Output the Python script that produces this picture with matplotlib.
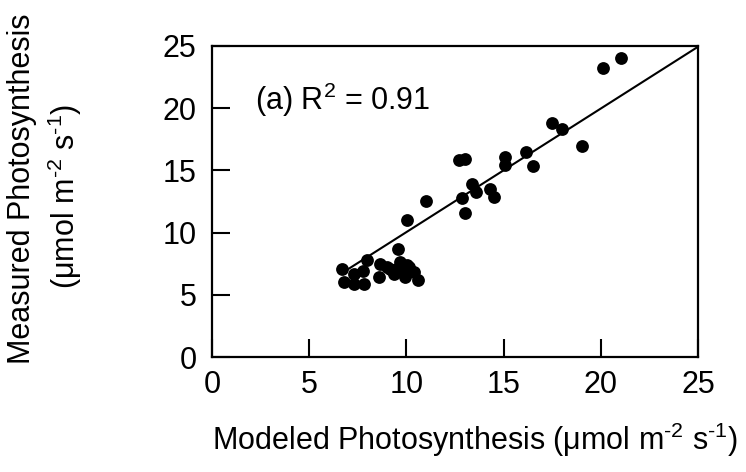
import matplotlib
matplotlib.use("Agg")
import matplotlib.pyplot as plt

plt.rcParams['font.family'] = ['Liberation Sans', 'DejaVu Sans']
plt.rcParams['mathtext.fontset'] = 'custom'
plt.rcParams['mathtext.rm'] = 'Liberation Sans'
plt.rcParams['mathtext.it'] = 'Liberation Sans'
plt.rcParams['mathtext.default'] = 'regular'

# Data
modeled = [21.05, 20.12, 17.46, 18.0, 19.0, 16.17, 16.51, 15.06, 15.09,
           12.69, 13.03, 13.39, 13.56, 14.32, 14.49, 12.88, 13.03, 11.0,
           10.03, 9.55,
           6.68, 6.80, 7.31, 7.83, 7.28, 7.97, 7.79, 8.57, 8.65, 9.17,
           9.34, 9.68, 9.77, 9.94, 10.11, 10.37, 10.57, 9.0, 9.51, 10.03]
measured = [24.07, 23.2, 18.79, 18.33, 16.93, 16.44, 15.39, 16.09, 15.44,
            15.85, 15.93, 13.88, 13.29, 13.5, 12.83, 12.8, 11.54, 12.53,
            11.0, 8.71,
            7.09, 6.01, 5.88, 5.88, 6.68, 7.76, 6.95, 6.47, 7.49, 7.09,
            6.68, 7.63, 7.09, 6.42, 7.22, 6.82, 6.20, 7.22, 7.09, 7.36]
fit_x = [6.94, 25.0]
fit_y = [7.0, 24.95]
ticks = [0, 5, 10, 15, 20, 25]
tick_labels = ['0', '5', '10', '15', '20', '25']

fig = plt.figure(figsize=(7.46, 4.72), dpi=100)
ax = fig.add_axes([0.284, 0.2436, 0.652, 0.659])

ax.plot(fit_x, fit_y, color='black', lw=1.5)
ax.scatter(modeled, measured, s=85, color='black', zorder=3, linewidths=0)

ax.set_xlim(0, 25)
ax.set_ylim(0, 25)
ax.set_xticks(ticks)
ax.set_yticks(ticks)
ax.set_xticklabels(tick_labels)
ax.set_yticklabels(tick_labels)
ax.tick_params(direction='in', length=13, width=1.5, labelsize=22,
               top=False, right=False)
ax.tick_params(axis='x', pad=9)
ax.tick_params(axis='y', pad=11)
for sp in ax.spines.values():
    sp.set_linewidth(1.6)

ax.text(2.2, 19.85, '(a) R$^2$ = 0.91', fontsize=22, va='baseline', ha='left')

unit = '($\\mu$mol m$^{\\text{-}2}$ s$^{\\text{-}1}$)'
fig.text(475 / 746, 0.068, 'Modeled Photosynthesis ' + unit,
         fontsize=22, ha='center', va='center')
fig.text(22 / 746, 0.60, 'Measured Photosynthesis', fontsize=22, rotation=90,
         ha='center', va='center')
fig.text(65 / 746, 0.583, unit, fontsize=22, rotation=90,
         ha='center', va='center')

fig.savefig('out.png', dpi=100)
